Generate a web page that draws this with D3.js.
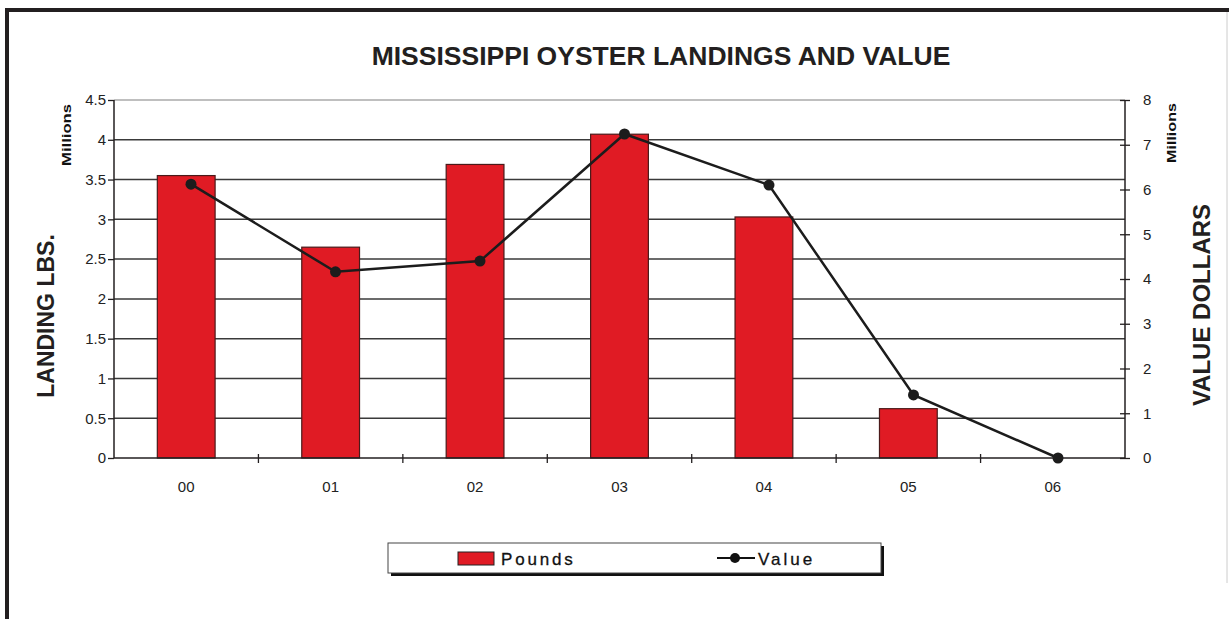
<!DOCTYPE html>
<html>
<head>
<meta charset="utf-8">
<script src="https://cdn.jsdelivr.net/npm/d3@7"></script>
<style>
  body { margin: 0; background: #fff; }
  svg { display: block; font-family: "Liberation Sans", Arial, sans-serif; }
</style>
</head>
<body>
<svg id="chart" width="1229" height="619"></svg>
<script>
// data (millions)
const years = ["00", "01", "02", "03", "04", "05", "06"];
const pounds = [3.55, 2.65, 3.69, 4.07, 3.03, 0.62, 0];
const value = [6.12, 4.16, 4.40, 7.24, 6.10, 1.41, 0];
const leftTicks = [0, 0.5, 1, 1.5, 2, 2.5, 3, 3.5, 4, 4.5];
const rightTicks = [0, 1, 2, 3, 4, 5, 6, 7, 8];

const svg = d3.select("#chart");
const plotLeft = 114, plotRight = 1125, plotTop = 100, plotBottom = 458;

const x = d3.scaleBand().domain(years).range([plotLeft, plotRight]).paddingInner(0.6).paddingOuter(0.3);
const xLine = d3.scalePoint().domain(years).range([plotLeft + 72 + 5, plotRight - 72 + 5]);
const yL = d3.scaleLinear().domain([0, 4.5]).range([plotBottom, plotTop]);
const yR = d3.scaleLinear().domain([0, 8]).range([plotBottom, plotTop]);

// outer frame
svg.append("rect").attr("x", 5).attr("y", 8).attr("width", 1229).attr("height", 4).attr("fill", "#231f20");
svg.append("rect").attr("x", 5).attr("y", 8).attr("width", 4).attr("height", 611).attr("fill", "#231f20");
svg.append("line").attr("x1", 1227).attr("x2", 1227).attr("y1", 12).attr("y2", 583)
    .attr("stroke", "#ccc").attr("stroke-width", 1);

// title
svg.append("text").attr("x", 661).attr("y", 65).attr("text-anchor", "middle")
    .attr("font-size", 26.5).attr("font-weight", "bold").attr("fill", "#231f20")
    .text("MISSISSIPPI OYSTER LANDINGS AND VALUE");

// gridlines
svg.append("g").selectAll("line").data(leftTicks.filter(d => d > 0)).join("line")
    .attr("x1", plotLeft).attr("x2", plotRight)
    .attr("y1", d => yL(d)).attr("y2", d => yL(d))
    .attr("stroke", d => d === 4.5 ? "#aaa" : "#3a3a3a").attr("stroke-width", 1.5);

// bars
svg.append("g").selectAll("rect").data(years.filter((d, i) => pounds[i] > 0)).join("rect")
    .attr("x", d => x(d))
    .attr("width", x.bandwidth())
    .attr("y", d => yL(pounds[years.indexOf(d)]))
    .attr("height", d => plotBottom - yL(pounds[years.indexOf(d)]))
    .attr("fill", "#e01b24").attr("stroke", "#4a1a1a").attr("stroke-width", 1.2);

// left axis
const axL = svg.append("g").attr("transform", `translate(${plotLeft},0)`)
    .call(d3.axisLeft(yL).tickValues(leftTicks).tickSize(6).tickPadding(2).tickFormat(d => d));
axL.select(".domain").attr("stroke", "#231f20").attr("stroke-width", 1.5).attr("d", `M0,${plotTop}V${plotBottom}`);
axL.selectAll(".tick line").attr("stroke", "#231f20").attr("stroke-width", 1.3);
axL.selectAll(".tick text").attr("font-size", 15).attr("fill", "#222").attr("font-family", "Liberation Sans, Arial");

// right axis
const axR = svg.append("g").attr("transform", `translate(${plotRight},0)`)
    .call(d3.axisRight(yR).tickValues(rightTicks).tickSize(5).tickPadding(13).tickFormat(d => d));
axR.select(".domain").attr("stroke", "#231f20").attr("stroke-width", 1.5).attr("d", `M0,${plotTop}V${plotBottom}`);
axR.selectAll(".tick line").attr("x1", -5).attr("stroke", "#231f20").attr("stroke-width", 1.3);
axR.selectAll(".tick text").attr("font-size", 15).attr("fill", "#222").attr("font-family", "Liberation Sans, Arial");

// bottom axis
svg.append("line").attr("x1", plotLeft).attr("x2", plotRight).attr("y1", plotBottom).attr("y2", plotBottom)
    .attr("stroke", "#231f20").attr("stroke-width", 1.5);
const xEdges = years.slice(1).map(d => x(d) - x.step() * x.paddingInner() / 2);
svg.append("g").selectAll("line").data(xEdges).join("line")
    .attr("x1", d => d).attr("x2", d => d).attr("y1", plotBottom - 4).attr("y2", plotBottom + 5)
    .attr("stroke", "#231f20").attr("stroke-width", 1.3);
svg.append("g").selectAll("text").data(years).join("text")
    .attr("x", d => x(d) + x.bandwidth() / 2).attr("y", 492)
    .attr("text-anchor", "middle").attr("font-size", 15).attr("fill", "#222")
    .text(d => d);

// value line
svg.append("path").datum(value)
    .attr("fill", "none").attr("stroke", "#1c1c1c").attr("stroke-width", 2.5)
    .attr("d", d3.line().x((d, i) => xLine(years[i])).y(d => yR(d)));
svg.append("g").selectAll("circle").data(value).join("circle")
    .attr("cx", (d, i) => xLine(years[i])).attr("cy", d => yR(d)).attr("r", 5.5)
    .attr("fill", "#1c1c1c");

// axis titles
svg.append("text").attr("transform", "translate(54,316) rotate(-90)").attr("text-anchor", "middle")
    .attr("font-size", 23).attr("font-weight", "bold").attr("fill", "#231f20").text("LANDING LBS.");
svg.append("text").attr("transform", "translate(1210,305) rotate(-90)").attr("text-anchor", "middle")
    .attr("font-size", 24).attr("font-weight", "bold").attr("fill", "#231f20").text("VALUE DOLLARS");
svg.append("text").attr("transform", "translate(71,135) rotate(-90)").attr("text-anchor", "middle")
    .attr("font-size", 13).attr("font-weight", "bold").attr("fill", "#111")
    .attr("textLength", 62).attr("lengthAdjust", "spacingAndGlyphs").text("Millions");
svg.append("text").attr("transform", "translate(1176,133) rotate(-90)").attr("text-anchor", "middle")
    .attr("font-size", 13).attr("font-weight", "bold").attr("fill", "#111")
    .attr("textLength", 60).attr("lengthAdjust", "spacingAndGlyphs").text("Millions");

// legend
const lg = svg.append("g");
lg.append("rect").attr("x", 391).attr("y", 546).attr("width", 493).attr("height", 30).attr("fill", "#111");
lg.append("rect").attr("x", 388).attr("y", 543).attr("width", 493).attr("height", 30)
    .attr("fill", "#fff").attr("stroke", "#444").attr("stroke-width", 1);
lg.append("rect").attr("x", 458).attr("y", 552).attr("width", 36).attr("height", 13)
    .attr("fill", "#e01b24").attr("stroke", "#222").attr("stroke-width", 1);
lg.append("text").attr("x", 501).attr("y", 565).attr("font-size", 17)
    .attr("letter-spacing", 2.8).attr("fill", "#111").attr("stroke", "#111").attr("stroke-width", 0.3)
    .text("Pounds");
lg.append("line").attr("x1", 717).attr("x2", 755).attr("y1", 558).attr("y2", 558)
    .attr("stroke", "#111").attr("stroke-width", 2);
lg.append("circle").attr("cx", 735).attr("cy", 558).attr("r", 5).attr("fill", "#111");
lg.append("text").attr("x", 758).attr("y", 565).attr("font-size", 17)
    .attr("letter-spacing", 3).attr("fill", "#111").attr("stroke", "#111").attr("stroke-width", 0.3)
    .text("Value");
</script>
</body>
</html>
